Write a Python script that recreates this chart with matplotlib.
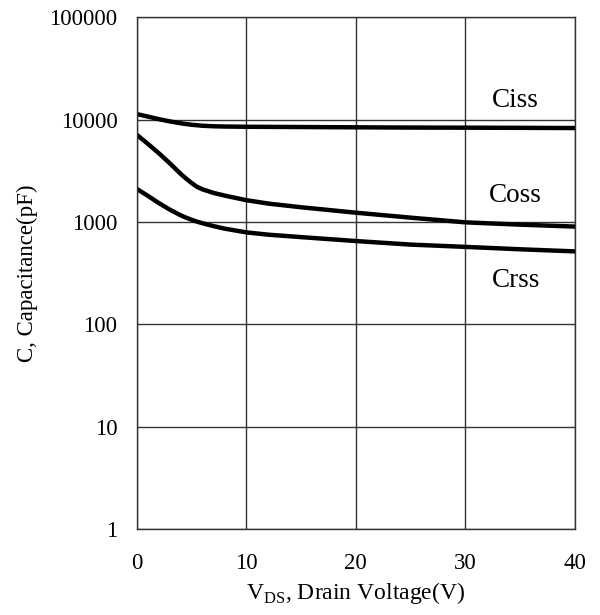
import numpy as np
import matplotlib.pyplot as plt

plt.rcParams['font.family'] = ['Liberation Serif', 'DejaVu Serif']
plt.rcParams['mathtext.fontset'] = 'custom'
plt.rcParams['mathtext.rm'] = 'Liberation Serif'

vds = [0, 1, 2, 3, 4, 4.5, 5, 5.5, 6, 7, 8, 10, 12, 15, 20, 25, 30, 35, 40]
ciss = [11300, 10700, 10100, 9600, 9200, 9050, 8900, 8800, 8700, 8600, 8550, 8500, 8480, 8450, 8400, 8350, 8330, 8300, 8260]
coss = [7100, 5800, 4700, 3750, 2950, 2650, 2400, 2200, 2080, 1920, 1810, 1630, 1510, 1390, 1230, 1100, 990, 940, 900]
crss = [2100, 1800, 1530, 1320, 1160, 1100, 1050, 1005, 970, 910, 860, 790, 750, 710, 650, 600, 570, 540, 515]

labels = ['Ciss', 'Coss', 'Crss']
label_y = [15500, 1830, 270]

fig = plt.figure(figsize=(6, 6.15), dpi=100)
ax = fig.add_axes([0.228, 0.14, 0.73, 0.832])

for ys in (ciss, coss, crss):
    ax.plot(vds, ys, color='black', lw=3.2, solid_capstyle='round', solid_joinstyle='round')

for lab, y in zip(labels, label_y):
    ax.text(34.6, y, lab, ha='center', va='center', fontsize=19.5)

ax.set_yscale('log')
ax.set_xlim(0, 40)
ax.set_ylim(1, 100000)
ax.set_xticks([0, 10, 20, 30, 40])
ax.set_yticks([1, 10, 100, 1000, 10000, 100000])
ax.set_yticklabels(['1', '10', '100', '1000', '10000', '100000'])
ax.minorticks_off()
ax.tick_params(length=0, labelsize=16.5, pad=14)
ax.tick_params(axis='x', pad=17)
ax.grid(True, color='#333333', lw=1)
for s in ax.spines.values():
    s.set_color('#333333')
    s.set_linewidth(1)

ax.set_xlabel('V$_{\\mathrm{DS}}$, Drain Voltage(V)', fontsize=17, labelpad=5)
ax.set_ylabel('C, Capacitance(pF)', fontsize=16.5, labelpad=8)

fig.savefig('out.png', dpi=100)
